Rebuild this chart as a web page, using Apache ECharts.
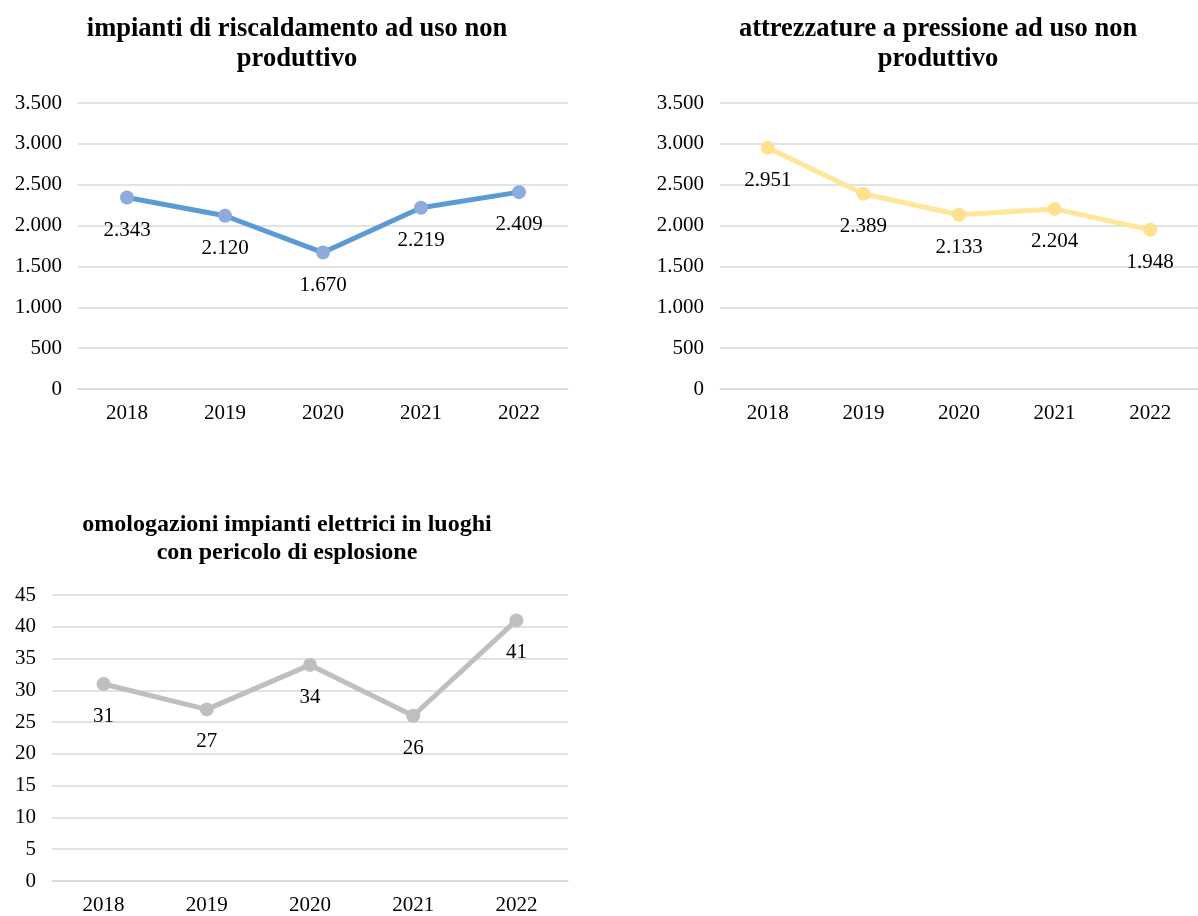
<!DOCTYPE html>
<html>
<head>
<meta charset="utf-8">
<script src="https://cdn.jsdelivr.net/npm/echarts@6/dist/echarts.min.js"></script>
<style>
html,body{margin:0;padding:0;background:#fff;}
#c{width:1198px;height:916px;}
</style>
</head>
<body>
<div id="c"></div>
<script>
const years = ['2018','2019','2020','2021','2022'];
const riscaldamento = [2343, 2120, 1670, 2219, 2409];
const pressione = [2951, 2389, 2133, 2204, 1948];
const omologazioni = [31, 27, 34, 26, 41];
const titles = [
  'impianti di riscaldamento ad uso non\nproduttivo',
  'attrezzature a pressione ad uso non\nproduttivo',
  'omologazioni impianti elettrici in luoghi\ncon pericolo di esplosione'
];

const FONT = '"Liberation Serif", "Times New Roman", serif';
const fmt = v => String(v).replace(/\B(?=(\d{3})+(?!\d))/g, '.');

const chart = echarts.init(document.getElementById('c'), null, {renderer: 'canvas'});

const grids = [
  {left: 78, top: 103, width: 490, height: 286},
  {left: 720, top: 103, width: 489, height: 286},
  {left: 52, top: 595, width: 516, height: 287}
];
const yCfg = [
  {max: 3500, interval: 500},
  {max: 3500, interval: 500},
  {max: 45, interval: 5}
];
const seriesData = [riscaldamento, pressione, omologazioni];
const lineColors = ['#5b9bd5', '#ffe699', '#bfbfbf'];
const markerColors = ['#8faadc', '#ffe08f', '#bfbfbf'];
const titleStyle = [
  {x: 297, y: 14, size: 26.5, lh: 30},
  {x: 938, y: 14, size: 26.5, lh: 30},
  {x: 287, y: 511, size: 24, lh: 28}
];

const option = {
  backgroundColor: '#fff',
  animation: false,
  title: titles.map((t, i) => ({
    text: t,
    left: titleStyle[i].x,
    top: titleStyle[i].y,
    padding: 0,
    textAlign: 'center',
    textStyle: {fontFamily: FONT, fontWeight: 'bold', fontSize: titleStyle[i].size, lineHeight: titleStyle[i].lh, color: '#000'}
  })),
  grid: grids.map(g => Object.assign({containLabel: false}, g)),
  xAxis: grids.map((g, i) => ({
    type: 'category',
    gridIndex: i,
    data: years,
    boundaryGap: true,
    axisLine: {show: true, lineStyle: {color: '#d9d9d9', width: 1.5}},
    axisTick: {show: false},
    axisLabel: {fontFamily: FONT, fontSize: 21, color: '#000', margin: 14}
  })),
  yAxis: grids.map((g, i) => ({
    type: 'value',
    gridIndex: i,
    min: 0,
    max: yCfg[i].max,
    interval: yCfg[i].interval,
    axisLine: {show: false},
    axisTick: {show: false},
    splitLine: {show: true, lineStyle: {color: '#d9d9d9', width: 1.5}},
    axisLabel: {fontFamily: FONT, fontSize: 21, color: '#000', margin: 16, formatter: fmt}
  })),
  series: seriesData.map((d, i) => ({
    type: 'line',
    xAxisIndex: i,
    yAxisIndex: i,
    data: d,
    symbol: 'circle',
    symbolSize: 14,
    lineStyle: {color: lineColors[i], width: 5},
    itemStyle: {color: markerColors[i]},
    label: {
      show: true,
      position: 'bottom',
      distance: 15,
      fontFamily: FONT,
      fontSize: 21,
      color: '#000',
      formatter: p => fmt(p.value)
    }
  }))
};
chart.setOption(option);
</script>
</body>
</html>
